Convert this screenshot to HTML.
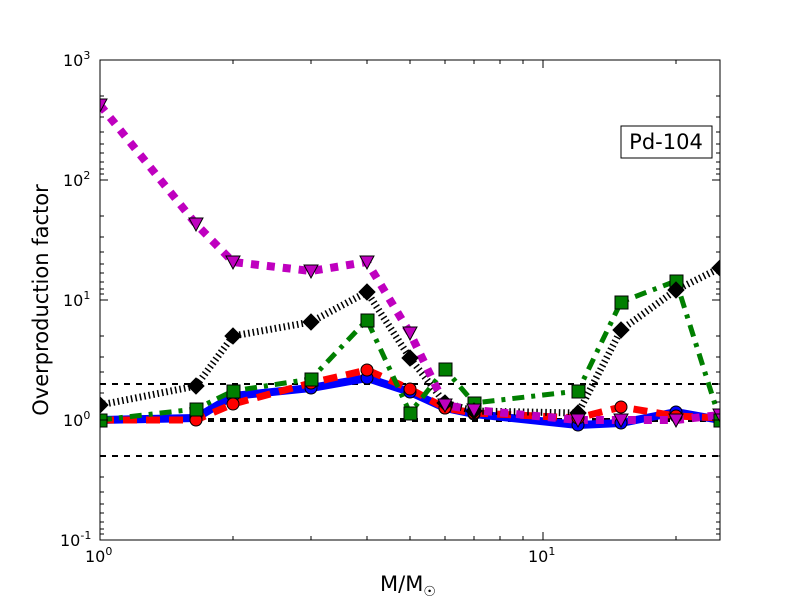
<!DOCTYPE html>
<html><head><style>body{margin:0;background:#fff}svg{display:block}</style></head><body>
<svg width="800" height="600" xmlns="http://www.w3.org/2000/svg" font-family="'DejaVu Sans','Liberation Sans',sans-serif">
<rect width="800" height="600" fill="#fff"/>
<defs><clipPath id="c"><rect x="100" y="60" width="620" height="480"/></clipPath></defs>
<g stroke="#000" fill="none" stroke-dasharray="6,6">
<line x1="100" y1="384" x2="720" y2="384" stroke-width="2"/>
<line x1="100" y1="456" x2="720" y2="456" stroke-width="2"/>
<line x1="100" y1="420" x2="720" y2="420" stroke-width="4"/>
</g>
<g clip-path="url(#c)" fill="none" stroke-linejoin="round">
<polyline stroke="#0000ff" stroke-width="8" points="100,420 196,418 233,396 311,388 367,378 410,392 445,408 474,414 578,425 621,423 676,412 720,420"/>
<polyline stroke="#ff0000" stroke-width="7" stroke-dasharray="14,9" points="100,420 196,420 233,404 311,383 367,370 410,389 445,408 474,413 578,418 621,407 676,416 720,418"/>
<polyline stroke="#007f00" stroke-width="5" stroke-dasharray="12,7,4,7" points="100,420 196,409 233,391 311,379 367,320 410,413 445,369 474,403 578,391 621,302 676,281 720,420"/>
<polyline stroke="#000" stroke-width="7" stroke-dasharray="1.5,3" points="100,405 196,386 233,336 311,322 367,292 410,358 445,403 474,411 578,413 621,330 676,290 720,268"/>
<polyline stroke="#bf00bf" stroke-width="8" stroke-dasharray="8,8" points="100,105 196,224 233,262 311,271 367,262 410,333 445,405 474,410 578,420 621,420 676,420 720,415"/>
</g>
<g clip-path="url(#c)" stroke="#000" stroke-width="1">
<g fill="#0000ff">
<circle cx="100" cy="420" r="6"/><circle cx="196" cy="418" r="6"/><circle cx="233" cy="396" r="6"/><circle cx="311" cy="388" r="6"/><circle cx="367" cy="378" r="6"/><circle cx="410" cy="392" r="6"/><circle cx="445" cy="408" r="6"/><circle cx="474" cy="414" r="6"/><circle cx="578" cy="425" r="6"/><circle cx="621" cy="423" r="6"/><circle cx="676" cy="412" r="6"/><circle cx="720" cy="420" r="6"/>
</g>
<g fill="#ff0000">
<circle cx="100" cy="420" r="6"/><circle cx="196" cy="420" r="6"/><circle cx="233" cy="404" r="6"/><circle cx="311" cy="383" r="6"/><circle cx="367" cy="370" r="6"/><circle cx="410" cy="389" r="6"/><circle cx="445" cy="408" r="6"/><circle cx="474" cy="413" r="6"/><circle cx="578" cy="418" r="6"/><circle cx="621" cy="407" r="6"/><circle cx="676" cy="416" r="6"/><circle cx="720" cy="418" r="6"/>
</g>
<g fill="#007f00">
<rect x="94" y="414" width="13" height="13"/><rect x="190" y="403" width="13" height="13"/><rect x="227" y="385" width="13" height="13"/><rect x="305" y="373" width="13" height="13"/><rect x="361" y="314" width="13" height="13"/><rect x="404" y="407" width="13" height="13"/><rect x="439" y="363" width="13" height="13"/><rect x="468" y="397" width="13" height="13"/><rect x="572" y="385" width="13" height="13"/><rect x="615" y="296" width="13" height="13"/><rect x="670" y="275" width="13" height="13"/><rect x="714" y="414" width="13" height="13"/>
</g>
<g fill="#000">
<path d="M100,397l8,8-8,8-8-8z M196,378l8,8-8,8-8-8z M233,328l8,8-8,8-8-8z M311,314l8,8-8,8-8-8z M367,284l8,8-8,8-8-8z M410,350l8,8-8,8-8-8z M445,395l8,8-8,8-8-8z M474,403l8,8-8,8-8-8z M578,405l8,8-8,8-8-8z M621,322l8,8-8,8-8-8z M676,282l8,8-8,8-8-8z M720,260l8,8-8,8-8-8z"/>
</g>
<g fill="#bf00bf">
<path d="M93,99h14l-7,13z M189,218h14l-7,13z M226,256h14l-7,13z M304,265h14l-7,13z M360,256h14l-7,13z M403,327h14l-7,13z M438,399h14l-7,13z M467,404h14l-7,13z M571,414h14l-7,13z M614,414h14l-7,13z M669,414h14l-7,13z M713,409h14l-7,13z"/>
</g>
</g>
<rect x="100" y="60" width="620" height="480" fill="none" stroke="#000" stroke-width="1"/>
<g stroke="#000" stroke-width="1">
<path d="M100,180h8M100,300h8M100,420h8M720,180h-8M720,300h-8M720,420h-8M543,540v-8M543,60v8"/>
<path d="M100,96h4M100,117h4M100,132h4M100,144h4M100,153h4M100,162h4M100,169h4M100,174h4
M100,216h4M100,237h4M100,252h4M100,264h4M100,273h4M100,282h4M100,289h4M100,294h4
M100,336h4M100,357h4M100,372h4M100,384h4M100,393h4M100,402h4M100,409h4M100,414h4
M100,456h4M100,477h4M100,492h4M100,504h4M100,513h4M100,522h4M100,529h4M100,534h4
M720,96h-4M720,117h-4M720,132h-4M720,144h-4M720,153h-4M720,162h-4M720,169h-4M720,174h-4
M720,216h-4M720,237h-4M720,252h-4M720,264h-4M720,273h-4M720,282h-4M720,289h-4M720,294h-4
M720,336h-4M720,357h-4M720,372h-4M720,384h-4M720,393h-4M720,402h-4M720,409h-4M720,414h-4
M720,456h-4M720,477h-4M720,492h-4M720,504h-4M720,513h-4M720,522h-4M720,529h-4M720,534h-4
M233,540v-4M311,540v-4M367,540v-4M410,540v-4M445,540v-4M474,540v-4M500,540v-4M523,540v-4M676,540v-4
M233,60v4M311,60v4M367,60v4M410,60v4M445,60v4M474,60v4M500,60v4M523,60v4M676,60v4"/>
</g>
<g font-size="16" fill="#000">
<text x="63" y="66">10<tspan dy="-7" font-size="11">3</tspan></text>
<text x="63" y="186">10<tspan dy="-7" font-size="11">2</tspan></text>
<text x="63" y="306">10<tspan dy="-7" font-size="11">1</tspan></text>
<text x="63" y="426">10<tspan dy="-7" font-size="11">0</tspan></text>
<text x="60" y="546">10<tspan dy="-7" font-size="11">-1</tspan></text>
<text x="85" y="562">10<tspan dy="-7" font-size="11">0</tspan></text>
<text x="528" y="562">10<tspan dy="-7" font-size="11">1</tspan></text>
</g>
<text x="380" y="591" font-size="21">M/M<tspan dy="5" font-size="14">☉</tspan></text>
<text transform="translate(48,300) rotate(-90)" text-anchor="middle" font-size="21">Overproduction factor</text>
<rect x="621" y="126" width="91" height="32" fill="#fff" stroke="#000" stroke-width="1"/>
<text x="666" y="149" text-anchor="middle" font-size="21">Pd-104</text>
</svg>
</body></html>
